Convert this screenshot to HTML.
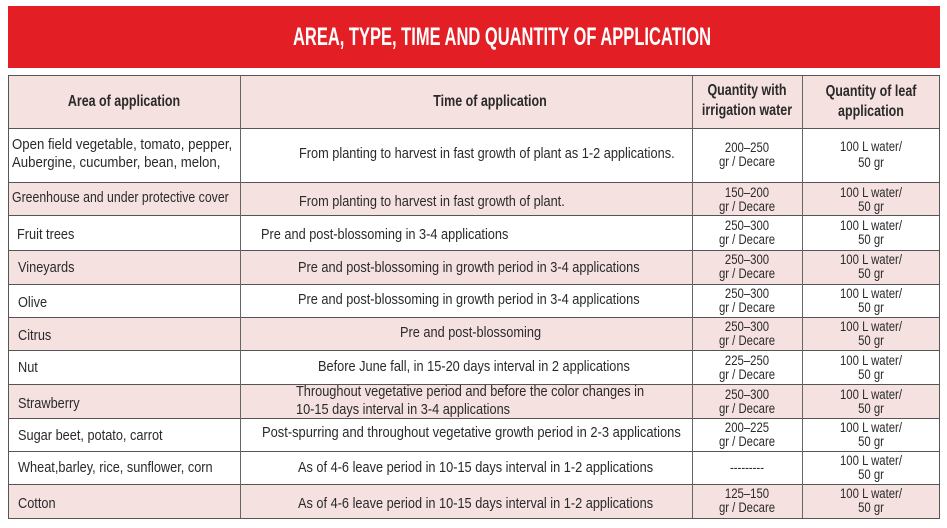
<!DOCTYPE html>
<html><head><meta charset="utf-8"><style>
body{margin:0;width:947px;height:528px;background:#fff;position:relative;overflow:hidden;font-family:"Liberation Sans",sans-serif;color:#2a2a2a}
.t{position:absolute;left:8px;top:6px;width:932px;height:62px;background:#e31e24}
.t span{position:absolute;left:56px;right:0;top:17px;text-align:center;color:#fff;font-weight:bold;font-size:25px;transform:scaleX(0.66)}
.r{position:absolute;left:8px;width:932px;border:1px solid #555;box-sizing:border-box}
.p{background:#f6e1e1}
.v{position:absolute;top:75px;height:443px;width:1px;background:#666}
.x{position:absolute;font-size:15px;white-space:nowrap;line-height:18px;transform:scaleX(0.85);transform-origin:0 0}
.h{position:absolute;font-weight:bold;font-size:16px;text-align:center;line-height:20px;transform:scaleX(0.78);white-space:nowrap}
.q{position:absolute;font-size:13.5px;text-align:center;line-height:14px;width:110px;left:692px;transform:scaleX(0.84)}
.l{position:absolute;font-size:13.5px;text-align:center;line-height:14px;width:138px;left:802px;transform:scaleX(0.84)}
</style></head><body>
<div class="t"><span>AREA, TYPE, TIME AND QUANTITY OF APPLICATION</span></div>
<div class="r p" style="top:75px;height:54px"></div>
<div class="r" style="top:128px;height:55px"></div>
<div class="r p" style="top:182px;height:34px"></div>
<div class="r" style="top:215px;height:36px"></div>
<div class="r p" style="top:250px;height:35px"></div>
<div class="r" style="top:284px;height:34px"></div>
<div class="r p" style="top:317px;height:34px"></div>
<div class="r" style="top:350px;height:35px"></div>
<div class="r p" style="top:384px;height:35px"></div>
<div class="r" style="top:418px;height:34px"></div>
<div class="r" style="top:451px;height:34px"></div>
<div class="r p" style="top:484px;height:35px"></div>
<div class="v" style="left:240px"></div><div class="v" style="left:692px"></div><div class="v" style="left:802px"></div>
<div class="h" style="left:8px;width:232px;top:92px">Area of application</div>
<div class="h" style="left:240px;width:500px;top:92px">Time of application</div>
<div class="h" style="left:682px;width:130px;top:81px">Quantity with<br>irrigation water</div>
<div class="h" style="left:792px;width:158px;top:82px">Quantity of leaf<br>application</div>

<div class="x" style="left:12px;top:136px;transform:scaleX(0.88)">Open field vegetable, tomato, pepper,<br>Aubergine, cucumber, bean, melon,</div>
<div class="x" style="left:299px;top:145px">From planting to harvest in fast growth of plant as 1-2 applications.</div>
<div class="x" style="left:12px;top:189px;transform:scaleX(0.82)">Greenhouse and under protective cover</div>
<div class="x" style="left:299px;top:193px">From planting to harvest in fast growth of plant.</div>
<div class="x" style="left:17px;top:226px">Fruit trees</div>
<div class="x" style="left:261px;top:226px">Pre and post-blossoming in 3-4 applications</div>
<div class="x" style="left:18px;top:259px">Vineyards</div>
<div class="x" style="left:298px;top:259px">Pre and post-blossoming in growth period in 3-4 applications</div>
<div class="x" style="left:18px;top:294px">Olive</div>
<div class="x" style="left:298px;top:291px">Pre and post-blossoming in growth period in 3-4 applications</div>
<div class="x" style="left:18px;top:327px">Citrus</div>
<div class="x" style="left:400px;top:324px">Pre and post-blossoming</div>
<div class="x" style="left:18px;top:359px">Nut</div>
<div class="x" style="left:318px;top:358px">Before June fall, in 15-20 days interval in 2 applications</div>
<div class="x" style="left:18px;top:395px">Strawberry</div>
<div class="x" style="left:296px;top:383px">Throughout vegetative period and before the color changes in<br>10-15 days interval in 3-4 applications</div>
<div class="x" style="left:18px;top:427px">Sugar beet, potato, carrot</div>
<div class="x" style="left:262px;top:424px;transform:scaleX(0.86)">Post-spurring and throughout vegetative growth period in 2-3 applications</div>
<div class="x" style="left:18px;top:459px">Wheat,barley, rice, sunflower, corn</div>
<div class="x" style="left:298px;top:459px">As of 4-6 leave period in 10-15 days interval in 1-2 applications</div>
<div class="x" style="left:18px;top:495px">Cotton</div>
<div class="x" style="left:298px;top:495px">As of 4-6 leave period in 10-15 days interval in 1-2 applications</div>

<div class="q" style="top:141px">200–250<br>gr / Decare</div><div class="l" style="top:140px">100 L water/<br><span style="line-height:18px">50 gr</span></div>
<div class="q" style="top:186px">150–200<br>gr / Decare</div><div class="l" style="top:186px">100 L water/<br>50 gr</div>
<div class="q" style="top:219px">250–300<br>gr / Decare</div><div class="l" style="top:219px">100 L water/<br>50 gr</div>
<div class="q" style="top:253px">250–300<br>gr / Decare</div><div class="l" style="top:253px">100 L water/<br>50 gr</div>
<div class="q" style="top:287px">250–300<br>gr / Decare</div><div class="l" style="top:287px">100 L water/<br>50 gr</div>
<div class="q" style="top:320px">250–300<br>gr / Decare</div><div class="l" style="top:320px">100 L water/<br>50 gr</div>
<div class="q" style="top:354px">225–250<br>gr / Decare</div><div class="l" style="top:354px">100 L water/<br>50 gr</div>
<div class="q" style="top:388px">250–300<br>gr / Decare</div><div class="l" style="top:388px">100 L water/<br>50 gr</div>
<div class="q" style="top:421px">200–225<br>gr / Decare</div><div class="l" style="top:421px">100 L water/<br>50 gr</div>
<div class="q" style="top:461px">---------</div><div class="l" style="top:454px">100 L water/<br>50 gr</div>
<div class="q" style="top:487px">125–150<br>gr / Decare</div><div class="l" style="top:487px">100 L water/<br>50 gr</div>
</body></html>
